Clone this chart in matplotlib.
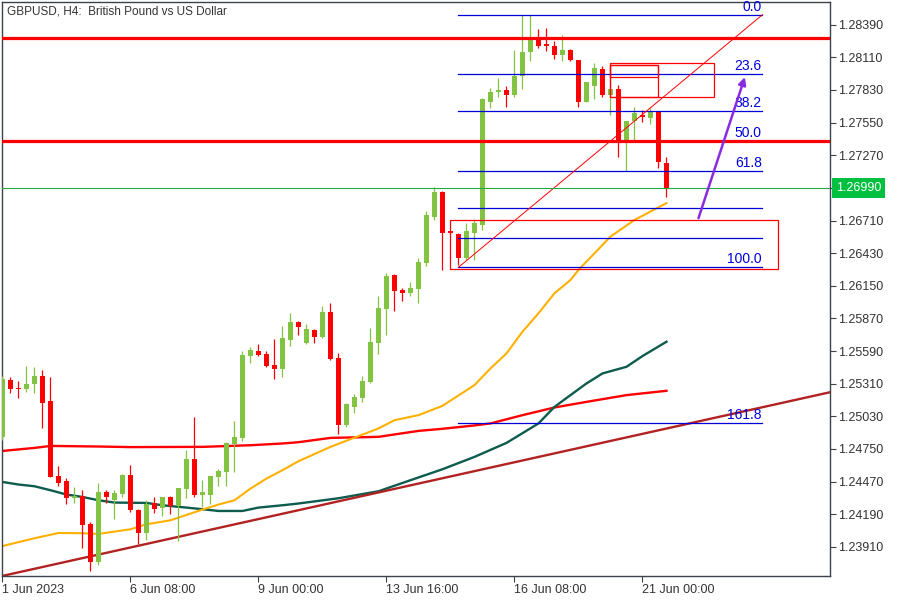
import matplotlib
matplotlib.use("Agg")
import matplotlib.pyplot as plt
from matplotlib.patches import Rectangle
from matplotlib.transforms import blended_transform_factory

plt.rcParams['font.family'] = ['Liberation Sans', 'DejaVu Sans']

# ---------------- data ----------------
title = "GBPUSD, H4:  British Pound vs US Dollar"
x_tick_bars = [0, 16, 32, 48, 64, 80]
x_tick_labels = ["1 Jun 2023", "6 Jun 08:00", "9 Jun 00:00", "13 Jun 16:00",
                 "16 Jun 08:00", "21 Jun 00:00"]
y_ticks = [1.23910, 1.24190, 1.24470, 1.24750, 1.25030, 1.25310, 1.25590,
           1.25870, 1.26150, 1.26430, 1.26710, 1.26990, 1.27270, 1.27550,
           1.27830, 1.28110, 1.28390]

opens = [1.24854, 1.25341, 1.25272, 1.25266, 1.25304, 1.25375, 1.25160, 1.24516,
         1.24473, 1.24330, 1.24350, 1.24104, 1.23780, 1.24379, 1.24313, 1.24364,
         1.24525, 1.24230, 1.24029, 1.24290, 1.24244, 1.24336, 1.24261, 1.24407,
         1.24662, 1.24356, 1.24356, 1.24510, 1.24553, 1.24791, 1.24845, 1.25547,
         1.25590, 1.25564, 1.25470, 1.25438, 1.25684, 1.25839, 1.25659, 1.25770,
         1.25710, 1.25925, 1.25530, 1.24954, 1.25109, 1.25186, 1.25324, 1.25659,
         1.25951, 1.26243, 1.26114, 1.26088, 1.26123, 1.26346, 1.26741, 1.26956,
         1.26616, 1.26595, 1.26386, 1.26606, 1.26672, 1.27731, 1.27812, 1.27826,
         1.27783, 1.27952, 1.28152, 1.28267, 1.28224, 1.28210, 1.28127, 1.28176,
         1.28090, 1.27731, 1.27860, 1.28012, 1.27783, 1.27841, 1.27388, 1.27560,
         1.27617, 1.27589, 1.27646, 1.27202]
highs = [1.25375, 1.25364, 1.25332, 1.25461, 1.25453, 1.25427, 1.25367, 1.24602,
         1.24499, 1.24422, 1.24396, 1.24121, 1.24454, 1.24396, 1.24396, 1.24533,
         1.24611, 1.24233, 1.24310, 1.24338, 1.24336, 1.24350, 1.24413, 1.24740,
         1.25023, 1.24482, 1.24522, 1.24574, 1.24808, 1.24989, 1.25590, 1.25627,
         1.25650, 1.25590, 1.25693, 1.25805, 1.25916, 1.25850, 1.25822, 1.25779,
         1.25977, 1.26002, 1.25573, 1.25143, 1.25221, 1.25375, 1.25788, 1.26062,
         1.26260, 1.26251, 1.26134, 1.26183, 1.26389, 1.26793, 1.26999, 1.26960,
         1.26621, 1.26601, 1.26687, 1.26721, 1.27761, 1.27847, 1.27932, 1.27860,
         1.28176, 1.28476, 1.28476, 1.28356, 1.28362, 1.28247, 1.28304, 1.28181,
         1.28090, 1.27895, 1.28061, 1.28032, 1.27841, 1.27875, 1.27560, 1.27683,
         1.27660, 1.27675, 1.27646, 1.27259]
lows = [1.24825, 1.25232, 1.25189, 1.25240, 1.25232, 1.24931, 1.24508, 1.24433,
        1.24278, 1.24287, 1.23900, 1.23703, 1.23752, 1.24287, 1.24147, 1.24336,
        1.24210, 1.23932, 1.23966, 1.24198, 1.24173, 1.24192, 1.23960, 1.24333,
        1.24336, 1.24252, 1.24276, 1.24433, 1.24433, 1.24553, 1.24819, 1.25489,
        1.25551, 1.25457, 1.25352, 1.25369, 1.25633, 1.25727, 1.25654, 1.25661,
        1.25699, 1.25517, 1.24877, 1.24940, 1.25060, 1.25152, 1.25319, 1.25564,
        1.25727, 1.25934, 1.26022, 1.26065, 1.26005, 1.26320, 1.26715, 1.26286,
        1.26594, 1.26329, 1.26372, 1.26372, 1.26629, 1.27675, 1.27774, 1.27680,
        1.27769, 1.27838, 1.28075, 1.28190, 1.28167, 1.28098, 1.28075, 1.28075,
        1.27688, 1.27731, 1.27755, 1.27774, 1.27617, 1.27259, 1.27136, 1.27388,
        1.27554, 1.27540, 1.27159, 1.26915]
closes = [1.25349, 1.25261, 1.25267, 1.25306, 1.25375, 1.25146, 1.24510, 1.24459,
          1.24330, 1.24350, 1.24098, 1.23780, 1.24379, 1.24336, 1.24368, 1.24525,
          1.24224, 1.24029, 1.24282, 1.24233, 1.24336, 1.24261, 1.24413, 1.24662,
          1.24356, 1.24379, 1.24516, 1.24562, 1.24797, 1.24849, 1.25556, 1.25599,
          1.25556, 1.25464, 1.25438, 1.25702, 1.25839, 1.25796, 1.25779, 1.25713,
          1.25925, 1.25521, 1.24954, 1.25135, 1.25195, 1.25332, 1.25667, 1.25959,
          1.26234, 1.26105, 1.26091, 1.26131, 1.26354, 1.26758, 1.26956, 1.26604,
          1.26599, 1.26386, 1.26623, 1.26687, 1.27752, 1.27817, 1.27826, 1.27789,
          1.27952, 1.28152, 1.28267, 1.28204, 1.28204, 1.28127, 1.28176, 1.28084,
          1.27731, 1.27895, 1.28018, 1.27783, 1.27841, 1.27388, 1.27560, 1.27632,
          1.27597, 1.27652, 1.27211, 1.26990]

# moving averages (bar index, value)
ma_orange_bars = [0, 4, 7, 10, 12, 16, 18, 21, 25, 27, 29, 31, 33, 35, 37, 41, 47,
                  49, 52, 55, 59, 61, 63, 65, 67, 69, 71, 72, 76, 79, 83]
ma_orange_vals = [1.23917, 1.23984, 1.24029, 1.24027, 1.24021, 1.24061, 1.24104,
                  1.24138, 1.24230, 1.24273, 1.24310, 1.24410, 1.24496, 1.24568,
                  1.24645, 1.24768, 1.24926, 1.24997, 1.25040, 1.25120, 1.25298,
                  1.25441, 1.25570, 1.25756, 1.25914, 1.26086, 1.26200, 1.26286,
                  1.26572, 1.26715, 1.26859]
ma_teal_bars = [0, 2, 4, 6, 8, 10, 12, 14, 18, 20, 23, 25, 27, 30, 32, 35, 37, 42,
                47, 51, 55, 59, 63, 67, 69, 71, 73, 75, 78, 80, 83]
ma_teal_vals = [1.24467, 1.24445, 1.24430, 1.24396, 1.24359, 1.24338, 1.24310,
                1.24290, 1.24287, 1.24267, 1.24247, 1.24233, 1.24218, 1.24218,
                1.24247, 1.24267, 1.24282, 1.24327, 1.24387, 1.24482, 1.24576,
                1.24682, 1.24802, 1.24969, 1.25111, 1.25212, 1.25312, 1.25398,
                1.25455, 1.25547, 1.25670]
ma_red_bars = [0, 4, 6, 12, 16, 25, 31, 35, 37, 41, 47, 52, 55, 59, 61, 65, 69, 73,
               78, 83]
ma_red_vals = [1.24733, 1.24759, 1.24776, 1.24771, 1.24766, 1.24768, 1.24782,
               1.24797, 1.24808, 1.24845, 1.24854, 1.24905, 1.24923, 1.24952,
               1.24969, 1.25040, 1.25106, 1.25154, 1.25212, 1.25249]

trend_bars = [0, 103]
trend_vals = [1.23661, 1.25230]

resistance_levels = [1.28276, 1.27391]
current_price = 1.26990

fib_bar_start, fib_bar_end = 57, 95
fib_low, fib_high = 1.26309, 1.28476
fib_levels = [0.0, 23.6, 38.2, 50.0, 61.8, 76.4, 88.6, 100.0, 161.8]
fib_labeled = [0.0, 23.6, 38.2, 50.0, 61.8, 100.0, 161.8]

# rectangles: (bar0, bar1, price_low, price_high)
rects = [(56.0, 97.0, 1.26292, 1.26715),
         (75.9, 89.0, 1.27774, 1.28061),
         (75.9, 82.0, 1.27941, 1.28047),
         (75.9, 82.0, 1.27774, 1.28047)]
arrow_from = (87.0, 1.26730)
arrow_to = (92.8, 1.27941)

# ---------------- drawing ----------------
fig = plt.figure(figsize=(9, 6), dpi=100)
ax = fig.add_axes([2 / 900, 24 / 600, 828 / 900, 574 / 600])
ax.set_xlim(-0.06, 103.44)
ax.set_ylim(1.23660, 1.28585)

GREEN = "#82C341"
RED = "#FF0000"

# indicators
ax.plot(ma_red_bars, ma_red_vals, color="#FF0000", lw=1.7, zorder=2)
ax.plot(ma_teal_bars, ma_teal_vals, color="#0D5C4E", lw=1.7, zorder=2)
ax.plot(ma_orange_bars, ma_orange_vals, color="#FFB000", lw=1.5, zorder=2)

slope = (trend_vals[1] - trend_vals[0]) / (trend_bars[1] - trend_bars[0])
tx = [-1, 105]
ty = [trend_vals[0] + slope * (x - trend_bars[0]) for x in tx]
ax.plot(tx, ty, color="#B22222", lw=1.7, zorder=2)

# candles
for i, (o, h, l, c) in enumerate(zip(opens, highs, lows, closes)):
    col = GREEN if c >= o else RED
    ax.vlines(i, l, h, color=col, lw=0.9, zorder=3)
    body = max(abs(c - o), 0.00009)
    ax.bar(i, body, bottom=min(o, c), width=0.62, color=col, lw=0, zorder=3)

# fibonacci
rng = fib_high - fib_low
for lv in fib_levels:
    p = fib_high - lv / 100.0 * rng
    ax.plot([fib_bar_start, fib_bar_end], [p, p], color="#0000DD", lw=0.9, zorder=4)
    if lv in fib_labeled:
        ax.annotate(f"{lv:.1f}", xy=(fib_bar_end - 0.1, p), xytext=(0, 0.8),
                    textcoords="offset points", ha="right", va="bottom",
                    color="#0000DD", fontsize=10, zorder=5)
ax.plot([fib_bar_start, fib_bar_end], [fib_low, fib_high], color="#FF0000",
        lw=0.7, ls="-", zorder=4)

# horizontal lines
for p in resistance_levels:
    ax.axhline(p, color="#FF0000", lw=2.3, zorder=5)
ax.axhline(current_price, color="#22AA44", lw=0.8, zorder=4)

# rectangles
for b0, b1, p0, p1 in rects:
    ax.add_patch(Rectangle((b0, p0), b1 - b0, p1 - p0, fill=False,
                           ec="#FF0000", lw=0.9, zorder=5))

ax.annotate("", xy=arrow_to, xytext=arrow_from,
            arrowprops=dict(arrowstyle="-|>", color="#8A2BE2", lw=1.8,
                            mutation_scale=11, shrinkA=0, shrinkB=0), zorder=6)

# axes styling
FRAME = "#3C424C"
for s in ax.spines.values():
    s.set_color(FRAME)
    s.set_linewidth(1.0)
ax.yaxis.tick_right()
ax.set_yticks(y_ticks)
# the current-price tag takes the place of the label at that level
ax.set_yticklabels(["" if abs(v - current_price) < 1e-7 else f"{v:.5f}"
                    for v in y_ticks])
ax.set_xticks(x_tick_bars)
ax.set_xticklabels(x_tick_labels)
for lab in ax.get_xticklabels():
    lab.set_ha("left")
ax.tick_params(axis="y", direction="out", length=4, width=0.8, pad=2,
               labelsize=9, colors=FRAME, labelcolor="#333333")
ax.tick_params(axis="x", direction="out", length=4, width=0.8, pad=2,
               labelsize=9, colors=FRAME, labelcolor="#333333")

# current price tag
tr = blended_transform_factory(ax.transAxes, ax.transData)
ax.text(1.0075, current_price, f"{current_price:.5f}", transform=tr, ha="left",
        va="center", color="white", fontsize=9, zorder=10,
        bbox=dict(boxstyle="square,pad=0.3", fc="#00C040", ec="none"),
        clip_on=False)

fig.text(7 / 900, 1 - 12 / 600, title, ha="left", va="center", fontsize=8.5,
         color="#333333")

fig.savefig("out.png", dpi=100)
